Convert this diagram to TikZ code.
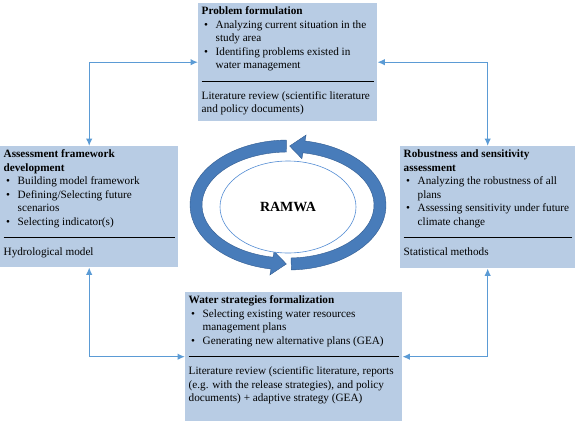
\documentclass[tikz,border=0pt]{standalone}
\usepackage{fontspec}
\setmainfont{Liberation Serif}
\usetikzlibrary{arrows.meta,shapes.geometric}

\definecolor{boxblue}{RGB}{184,204,228}
\definecolor{linkblue}{RGB}{91,155,213}
\definecolor{ringblue}{RGB}{72,124,186}
\definecolor{ringedge}{RGB}{50,92,145}
\definecolor{coreline}{RGB}{84,141,212}

\newcommand{\tbody}{\fontsize{11.2}{13.5}\selectfont}
\newcommand{\bitem}[1]{\par\hangindent=14pt\hangafter=1\noindent\makebox[14pt][l]{\hspace{2.5pt}\textbullet}#1\strut\par}
\newcommand{\sepline}{\par\vspace{8pt}\hrule height 0.5pt\vspace{8.5pt}\noindent\strut}
\newcommand{\stagetext}[4]{\parbox[c][#2][t]{#1}{\raggedright{\bfseries\strut #3\par}#4}}

\begin{document}
\begin{tikzpicture}[x=1pt,y=1pt,>={Latex[length=7.5pt,width=6.5pt]},
    stage/.style={fill=boxblue,anchor=north west,inner xsep=3.5pt,inner ysep=2pt,font=\tbody},
    elbow/.style={to path={-| (\tikztotarget)}}]
      \useasboundingbox (0,0) rectangle (576,-429);

      \node[stage] (prob) at (198,-3) {\stagetext{172pt}{114pt}{Problem formulation}{%
        \bitem{Analyzing current situation in the\newline study area}
        \bitem{Identifing problems existed in\newline water management}
        \sepline Literature review (scientific literature\\ and policy documents)}};
      \node[stage] (assess) at (0,-146) {\stagetext{171pt}{117pt}{Assessment framework\\ development}{%
        \bitem{Building model framework}
        \bitem{Defining/Selecting future\newline scenarios}
        \bitem{Selecting indicator(s)}
        \sepline Hydrological model}};
      \node[stage] (robust) at (400,-146) {\stagetext{168pt}{118pt}{Robustness and sensitivity\\ assessment}{%
        \bitem{Analyzing the robustness of all\newline plans}
        \bitem{Assessing sensitivity under future\newline climate change}
        \sepline Statistical methods}};
      \node[stage] (water) at (185,-292) {\stagetext{210pt}{125pt}{Water strategies formalization}{%
        \bitem{Selecting existing water resources\newline management plans}
        \bitem{Generating new alternative plans (GEA)}
        \sepline Literature review (scientific literature, reports\\ (e.g. with the release strategies), and policy\\ documents) + adaptive strategy (GEA)}};

      \path[<->,linkblue,line width=1.3pt]
      (prob) edge [elbow] (assess)
      (prob) edge [elbow] (robust)
      (water) edge [elbow] (assess)
      (water) edge [elbow] (robust)
      ;

      \coordinate (c) at (288,-205);
      \fill[ringblue,draw=ringedge,line width=0.4pt]
      ([shift={(c)}]-88:98pt and 65pt) arc[start angle=-88,end angle=80,x radius=98pt,y radius=65pt]
      -- ([shift={(c)}]80:104pt and 71pt) -- ([shift={(c)}]89:92pt and 59pt)
      -- ([shift={(c)}]80:80pt and 47pt)
      -- ([shift={(c)}]80:86pt and 53pt) arc[start angle=80,end angle=-88,x radius=86pt,y radius=53pt]
      -- cycle;
      \fill[ringblue,draw=ringedge,line width=0.4pt]
      ([shift={(c)}]91:98pt and 65pt) arc[start angle=91,end angle=260,x radius=98pt,y radius=65pt]
      -- ([shift={(c)}]260:104pt and 71pt) -- ([shift={(c)}]269:92pt and 59pt)
      -- ([shift={(c)}]260:80pt and 47pt)
      -- ([shift={(c)}]260:86pt and 53pt) arc[start angle=260,end angle=91,x radius=86pt,y radius=53pt]
      -- cycle;

      \node[ellipse,draw=coreline,fill=white,line width=0.6pt,minimum width=136pt,minimum height=92pt,
        inner sep=0pt,font=\fontsize{14}{16}\selectfont\bfseries] (core) at (288,-207) {RAMWA};
    \end{tikzpicture}
\end{document}
